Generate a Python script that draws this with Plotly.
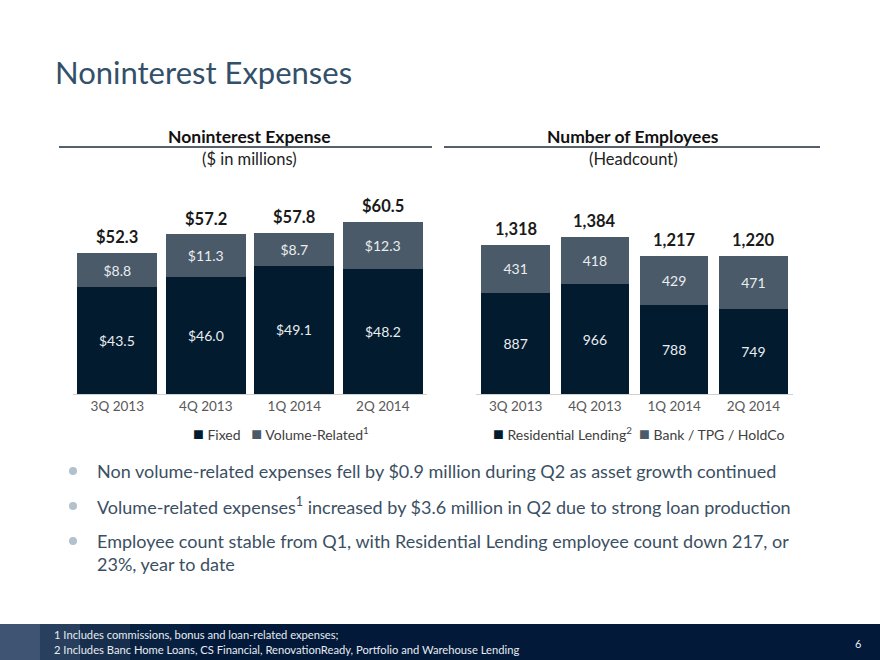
import plotly.graph_objects as go

W, H = 880, 660
def px(x): return x / W
def py(y): return 1 - y / H

FONT = "Lato, 'Open Sans', sans-serif"

quarters = ["3Q 2013", "4Q 2013", "1Q 2014", "2Q 2014"]
fixed = [43.5, 46.0, 49.1, 48.2]
volume = [8.8, 11.3, 8.7, 12.3]
exp_totals = [52.3, 57.2, 57.8, 60.5]
residential = [887, 966, 788, 749]
bank = [431, 418, 429, 471]
emp_totals = [1318, 1384, 1217, 1220]

C_DARK = "#031b2f"
C_GRAY = "#4b5a68"
C_LABEL = "#e9edf1"

Y1_MIN, Y1_MAX = 15.2, 66.4
Y2_MIN, Y2_MAX = 0, 1711

fig = go.Figure()

fig.add_trace(go.Bar(x=quarters, y=fixed, name="Fixed", marker_color=C_DARK,
                     marker_line_width=0, xaxis="x", yaxis="y",
                     textposition="none", hoverinfo="skip"))
fig.add_trace(go.Bar(x=quarters, y=volume, name="Volume-Related", marker_color=C_GRAY,
                     marker_line_width=0, xaxis="x", yaxis="y",
                     text=[f"${v:.1f}" for v in volume], textposition="inside",
                     insidetextanchor="middle", textangle=0,
                     textfont=dict(color=C_LABEL, size=14, family=FONT)))
fig.add_trace(go.Bar(x=quarters, y=residential, name="Residential Lending", marker_color=C_DARK,
                     marker_line_width=0, xaxis="x2", yaxis="y2", width=0.865,
                     text=[f"{v:,}" for v in residential], textposition="inside",
                     insidetextanchor="middle", textangle=0,
                     textfont=dict(color=C_LABEL, size=14, family=FONT)))
fig.add_trace(go.Bar(x=quarters, y=bank, name="Bank / TPG / HoldCo", marker_color=C_GRAY,
                     marker_line_width=0, xaxis="x2", yaxis="y2", width=0.865,
                     text=[f"{v:,}" for v in bank], textposition="inside",
                     insidetextanchor="middle", textangle=0,
                     textfont=dict(color=C_LABEL, size=14, family=FONT)))

annotations = []
# Fixed labels centered in visible part of segment
for q, f in zip(quarters, fixed):
    annotations.append(dict(x=q, y=(max(Y1_MIN, 0) + f) / 2, xref="x", yref="y",
                            text=f"${f:.1f}", showarrow=False,
                            font=dict(color=C_LABEL, size=14, family=FONT)))
for q, t in zip(quarters, exp_totals):
    annotations.append(dict(x=q, y=t, xref="x", yref="y", text=f"<b>${t:.1f}</b>",
                            showarrow=False, yanchor="bottom", yshift=4,
                            font=dict(color="#1a1a1a", size=16.5, family=FONT)))
for q, t in zip(quarters, emp_totals):
    annotations.append(dict(x=q, y=t, xref="x2", yref="y2", text=f"<b>{t:,}</b>",
                            showarrow=False, yanchor="bottom", yshift=4,
                            font=dict(color="#1a1a1a", size=16.5, family=FONT)))

def txt(x, y, s, size, color, anchor="center", bold=False):
    annotations.append(dict(x=px(x), y=py(y), xref="paper", yref="paper",
                            text=f"<b>{s}</b>" if bold else s, showarrow=False,
                            xanchor=anchor, yanchor="middle", align="left",
                            font=dict(size=size, color=color, family=FONT)))

txt(53, 72, "Noninterest Expenses", 31, "#33506a", anchor="left")
txt(249, 137, "Noninterest Expense", 17.5, "#111111", bold=True)
txt(249, 159, "($ in millions)", 16.5, "#222222")
txt(633, 137, "Number of Employees", 17.5, "#111111", bold=True)
txt(633, 159, "(Headcount)", 16.5, "#222222")

# legends (colored square glyphs + labels)
def sq(c): return f"<span style='color:{c};font-size:18px'>■</span>"
LEG = "#404040"
txt(281, 433, f"{sq(C_DARK)} Fixed   {sq(C_GRAY)} Volume-Related<sup>1</sup>", 14, LEG)
txt(638, 433, f"{sq(C_DARK)} Residential Lending<sup>2</sup>  {sq(C_GRAY)} Bank / TPG / HoldCo", 14, LEG)

BUL = "#3b4f63"
txt(95, 471, "Non volume-related expenses fell by $0.9 million during Q2 as asset growth continued", 18, BUL, anchor="left")
txt(95, 506, "Volume-related expenses<sup>1</sup> increased by $3.6 million in Q2 due to strong loan production", 18, BUL, anchor="left")
txt(95, 541, "Employee count stable from Q1, with Residential Lending employee count down 217, or", 18, BUL, anchor="left")
txt(95, 564, "23%, year to date", 18, BUL, anchor="left")

txt(52, 634, "1 Includes commissions, bonus and loan-related expenses;", 11.2, "#e6ebf1", anchor="left")
txt(52, 649, "2 Includes Banc Home Loans, CS Financial, RenovationReady, Portfolio and Warehouse Lending", 11.2, "#e6ebf1", anchor="left")
txt(858, 643, "6", 11, "#e6ebf1")

shapes = []
def line(x0, x1, y):
    shapes.append(dict(type="line", xref="paper", yref="paper", x0=px(x0), x1=px(x1),
                       y0=py(y), y1=py(y), line=dict(color="#1b2b3b", width=1.5)))
line(59, 432, 147)
line(444, 820, 147)

for y in [471, 506, 541]:
    shapes.append(dict(type="circle", xref="paper", yref="paper", x0=px(69), x1=px(77),
                       y0=py(y + 4), y1=py(y - 4), fillcolor="#b3c1cc", line=dict(width=0)))

# footer band
shapes.append(dict(type="rect", xref="paper", yref="paper", x0=0, x1=1, y0=0, y1=py(624),
                   fillcolor="#02193a", line=dict(width=0), layer="below"))
for x1, op in [(40, 0.22), (80, 0.15), (130, 0.10), (190, 0.06)]:
    shapes.append(dict(type="rect", xref="paper", yref="paper", x0=0, x1=px(x1), y0=0, y1=py(624),
                       fillcolor="#8fa3bd", opacity=op, line=dict(width=0), layer="below"))

tickfont = dict(size=13.5, color="#595959", family=FONT)
fig.update_layout(
    width=W, height=H, margin=dict(l=0, r=0, t=0, b=0),
    paper_bgcolor="white", plot_bgcolor="white",
    barmode="stack", showlegend=False,
    xaxis=dict(domain=[px(73), px(427)], showline=True, linecolor="#d0d0d0", linewidth=1,
               tickfont=tickfont, showgrid=False, ticks="", fixedrange=True),
    yaxis=dict(domain=[py(394), py(200)], range=[Y1_MIN, Y1_MAX], visible=False, fixedrange=True),
    xaxis2=dict(domain=[px(476), px(793)], showline=True, linecolor="#d0d0d0", linewidth=1,
                tickfont=tickfont, showgrid=False, ticks="", anchor="y2", fixedrange=True),
    yaxis2=dict(domain=[py(394), py(200)], range=[Y2_MIN, Y2_MAX], visible=False, anchor="x2",
                fixedrange=True),
    bargap=0.096,
    annotations=annotations, shapes=shapes,
    font=dict(family=FONT),
)

fig.write_html("out.html")
